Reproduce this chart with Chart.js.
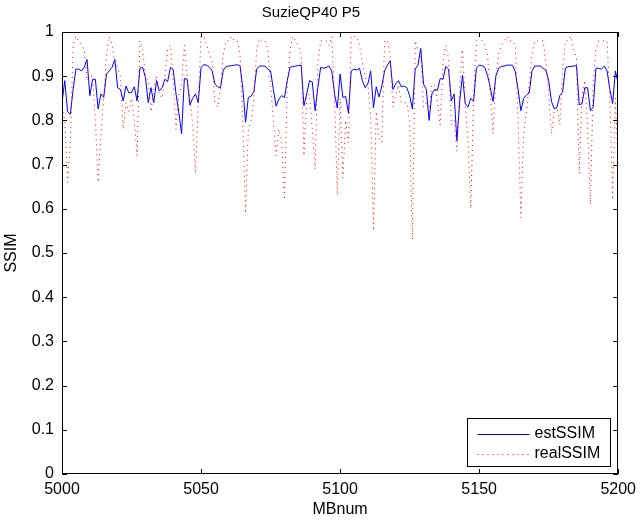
<!DOCTYPE html>
<html>
<head>
<meta charset="utf-8">
<script src="https://cdn.jsdelivr.net/npm/chart.js@4/dist/chart.umd.min.js"></script>
<style>
  html, body { margin: 0; padding: 0; background: #fff; }
  canvas { display: block; }
</style>
</head>
<body>
<canvas id="ssimChart" width="642" height="524"></canvas>
<script>
// ── data ────────────────────────────────────────────────────────
const title = 'SuzieQP40 P5';
const xLabel = 'MBnum';
const yLabel = 'SSIM';
const firstMB = 5000;
const xTicks = [5000, 5050, 5100, 5150, 5200];
const yTicks = [0, 0.1, 0.2, 0.3, 0.4, 0.5, 0.6, 0.7, 0.8, 0.9, 1];

const estSSIM = [
    0.84, 0.89, 0.82, 0.814, 0.87, 0.916, 0.916, 0.912, 0.92, 0.938,
    0.856, 0.893, 0.893, 0.826, 0.86, 0.852, 0.905, 0.912, 0.92, 0.938,
    0.874, 0.87, 0.844, 0.878, 0.863, 0.863, 0.876, 0.844, 0.918, 0.92,
    0.897, 0.84, 0.874, 0.84, 0.89, 0.867, 0.874, 0.893, 0.888, 0.92,
    0.915, 0.86, 0.818, 0.77, 0.895, 0.893, 0.835, 0.85, 0.86, 0.84,
    0.92, 0.926, 0.925, 0.92, 0.912, 0.882, 0.876, 0.874, 0.914, 0.922,
    0.923, 0.924, 0.925, 0.926, 0.924, 0.874, 0.796, 0.852, 0.855, 0.865,
    0.916, 0.923, 0.923, 0.923, 0.916, 0.912, 0.87, 0.832, 0.848, 0.856,
    0.852, 0.89, 0.92, 0.922, 0.923, 0.924, 0.925, 0.833, 0.86, 0.89,
    0.887, 0.822, 0.874, 0.92, 0.918, 0.92, 0.923, 0.912, 0.86, 0.828,
    0.905, 0.852, 0.854, 0.816, 0.912, 0.916, 0.914, 0.918, 0.89, 0.874,
    0.883, 0.912, 0.828, 0.876, 0.853, 0.878, 0.912, 0.925, 0.935, 0.87,
    0.883, 0.89, 0.876, 0.878, 0.874, 0.856, 0.826, 0.916, 0.925, 0.963,
    0.882, 0.87, 0.8, 0.86, 0.87, 0.868, 0.895, 0.893, 0.922, 0.916,
    0.844, 0.86, 0.754, 0.843, 0.902, 0.838, 0.83, 0.85, 0.843, 0.918,
    0.925, 0.924, 0.92, 0.902, 0.874, 0.843, 0.9, 0.918, 0.922, 0.923,
    0.925, 0.925, 0.925, 0.91, 0.87, 0.822, 0.85, 0.857, 0.862, 0.912,
    0.923, 0.923, 0.923, 0.918, 0.914, 0.89, 0.843, 0.826, 0.83, 0.856,
    0.864, 0.918, 0.922, 0.922, 0.923, 0.924, 0.835, 0.838, 0.874, 0.874,
    0.822, 0.83, 0.918, 0.918, 0.916, 0.923, 0.912, 0.87, 0.838, 0.912,
    0.882,
];

const realSSIM = [
    0.83, 0.8, 0.66, 0.75, 0.97, 0.99, 0.98, 0.97, 0.96, 0.89,
    0.9, 0.9, 0.8, 0.66, 0.77, 0.85, 0.95, 0.99, 0.97, 0.93,
    0.92, 0.9, 0.78, 0.84, 0.82, 0.85, 0.8, 0.72, 0.98, 0.96,
    0.9, 0.89, 0.82, 0.87, 0.9, 0.86, 0.85, 0.9, 0.96, 0.97,
    0.89, 0.78, 0.86, 0.88, 0.97, 0.9, 0.85, 0.79, 0.68, 0.84,
    0.99, 0.99, 0.97, 0.95, 0.93, 0.84, 0.83, 0.87, 0.95, 0.98,
    0.98, 0.99, 0.98, 0.98, 0.95, 0.8, 0.59, 0.78, 0.8, 0.85,
    0.96, 0.985, 0.98, 0.98, 0.96, 0.88, 0.8, 0.72, 0.78, 0.75,
    0.62, 0.88, 0.96, 0.99, 0.98, 0.97, 0.95, 0.72, 0.85, 0.86,
    0.78, 0.69, 0.93, 0.98, 0.98, 0.98, 0.97, 0.99, 0.85, 0.63,
    0.85, 0.67, 0.8, 0.75, 0.99, 0.99, 0.99, 0.97, 0.93, 0.9,
    0.88, 0.81, 0.55, 0.82, 0.76, 0.75, 0.98, 0.98, 0.95, 0.83,
    0.86, 0.88, 0.84, 0.84, 0.84, 0.8, 0.53, 0.98, 0.96, 0.95,
    0.83, 0.84, 0.82, 0.88, 0.88, 0.84, 0.79, 0.93, 0.97, 0.94,
    0.79, 0.8, 0.73, 0.88, 0.96, 0.84, 0.75, 0.6, 0.85, 0.98,
    0.99, 0.98, 0.97, 0.95, 0.86, 0.77, 0.9, 0.95, 0.97, 0.98,
    0.99, 0.98, 0.98, 0.97, 0.8, 0.58, 0.77, 0.82, 0.88, 0.95,
    0.98, 0.98, 0.98, 0.98, 0.93, 0.86, 0.77, 0.82, 0.83, 0.79,
    0.91, 0.98, 0.98, 0.99, 0.96, 0.94, 0.68, 0.86, 0.89, 0.78,
    0.61, 0.88, 0.96, 0.98, 0.98, 0.98, 0.98, 0.85, 0.62, 0.85,
    0.7,
];

const toPoints = (vals) => vals.map((v, i) => ({ x: firstMB + i, y: v }));

// ── plugins: matlab-ish box with inward ticks, legend in corner ──
const frame = {
    id: 'frame',
    afterDatasetsDraw(chart) {
        const { ctx, chartArea: a, scales: { x, y } } = chart;
        const len = 5;
        ctx.save();
        ctx.strokeStyle = '#000';
        ctx.lineWidth = 1;
        ctx.beginPath();
        xTicks.forEach((t) => {
            const px = Math.round(x.getPixelForValue(t)) + 0.5;
            ctx.moveTo(px, a.bottom); ctx.lineTo(px, a.bottom - len);
            ctx.moveTo(px, a.top); ctx.lineTo(px, a.top + len);
        });
        yTicks.forEach((t) => {
            const py = Math.round(y.getPixelForValue(t)) + 0.5;
            ctx.moveTo(a.left, py); ctx.lineTo(a.left + len, py);
            ctx.moveTo(a.right, py); ctx.lineTo(a.right - len, py);
        });
        ctx.stroke();
        ctx.strokeRect(Math.round(a.left) + 0.5, Math.round(a.top) + 0.5,
            Math.round(a.width) - 1, Math.round(a.height) - 1);
        ctx.restore();
    },
};

const boxLegend = {
    id: 'boxLegend',
    afterDraw(chart) {
        const { ctx, chartArea: a } = chart;
        const w = 143, h = 48;
        const bx = Math.round(a.right) - 8 - w + 0.5;
        const by = Math.round(a.bottom) - 8 - h + 0.5;
        ctx.save();
        ctx.fillStyle = '#fff';
        ctx.fillRect(bx, by, w, h);
        ctx.strokeStyle = '#000';
        ctx.lineWidth = 1;
        ctx.strokeRect(bx, by, w, h);
        ctx.font = '16px "Liberation Sans", Arial, sans-serif';
        ctx.textBaseline = 'middle';
        ctx.fillStyle = '#000';
        chart.data.datasets.forEach((ds, i) => {
            const ly = by + 15 + i * 20;
            ctx.beginPath();
            ctx.strokeStyle = ds.borderColor;
            ctx.setLineDash(ds.borderDash || []);
            ctx.moveTo(bx + 10, Math.round(ly) + 0.5);
            ctx.lineTo(bx + 62, Math.round(ly) + 0.5);
            ctx.stroke();
            ctx.setLineDash([]);
            ctx.fillText(ds.label, bx + 67, ly);
        });
        ctx.restore();
    },
};

Chart.defaults.font.family = '"Liberation Sans", Arial, sans-serif';
Chart.defaults.color = '#000';

new Chart(document.getElementById('ssimChart'), {
    type: 'line',
    data: {
        datasets: [
            {
                label: 'estSSIM',
                data: toPoints(estSSIM),
                borderColor: '#0000ff',
                borderWidth: 1,
                pointRadius: 0,
                tension: 0,
                order: 1,
            },
            {
                label: 'realSSIM',
                data: toPoints(realSSIM),
                borderColor: '#ff0000',
                borderDash: [1, 4],
                borderWidth: 1,
                pointRadius: 0,
                tension: 0,
                order: 0,
            },
        ],
    },
    options: {
        responsive: false,
        animation: false,
        devicePixelRatio: 1,
        layout: { padding: { left: 0, right: 20, top: 0, bottom: 0 } },
        plugins: {
            legend: { display: false },
            tooltip: { enabled: false },
            title: {
                display: true,
                text: title,
                font: { size: 15, weight: 'normal' },
                padding: { top: 4, bottom: 10 },
            },
        },
        scales: {
            x: {
                type: 'linear',
                min: 5000,
                max: 5200,
                grid: { display: false, drawTicks: false },
                border: { display: false },
                afterBuildTicks: (s) => { s.ticks = xTicks.map((v) => ({ value: v })); },
                afterFit: (s) => { s.height = 50; },
                ticks: {
                    font: { size: 16 },
                    padding: 6,
                    maxRotation: 0,
                    autoSkip: false,
                    callback: (v) => String(v),
                },
                title: { display: true, text: xLabel, font: { size: 16 }, padding: { top: 0, bottom: 5 } },
            },
            y: {
                min: 0,
                max: 1,
                grid: { display: false, drawTicks: false },
                border: { display: false },
                afterBuildTicks: (s) => { s.ticks = yTicks.map((v) => ({ value: v })); },
                afterFit: (s) => { s.width = 62; },
                ticks: {
                    font: { size: 16 },
                    padding: 8,
                    callback: (v) => String(Number(v.toFixed(1))),
                },
                title: { display: true, text: yLabel, font: { size: 16 }, padding: { top: 2, bottom: 0 } },
            },
        },
    },
    plugins: [frame, boxLegend],
});
</script>
</body>
</html>
